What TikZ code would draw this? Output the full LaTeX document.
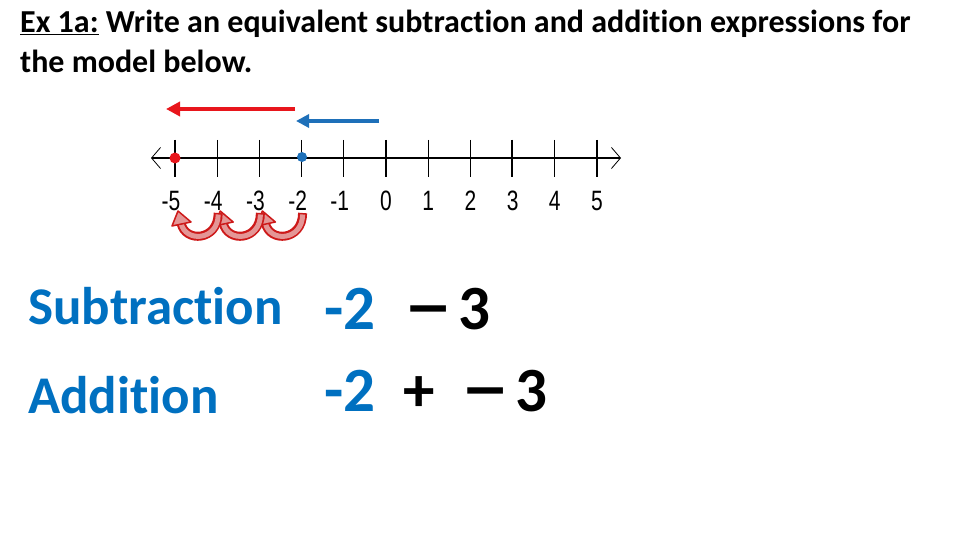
\documentclass[tikz,border=0pt]{standalone}
\usepackage{fontspec}
\usepackage{graphicx}
\setmainfont[Ligatures={NoCommon}]{Carlito}
\newfontfamily\numfont[FakeStretch=0.75]{Liberation Sans}
\usetikzlibrary{arrows.meta}
\definecolor{ppblue}{RGB}{0,112,192}
\definecolor{lineblue}{RGB}{30,112,185}
\definecolor{linered}{RGB}{232,22,28}
\definecolor{hopred}{RGB}{205,25,25}
\definecolor{hoppink}{RGB}{228,150,150}
\newcommand{\widedash}{\scalebox{1.6}[1.15]{–}}

\begin{document}
\begin{tikzpicture}[x=1pt,y=-1pt,
	title/.style={anchor=base west, inner sep=0pt, font=\bfseries\fontsize{32}{32}\selectfont},
	big/.style={anchor=base west, inner sep=0pt, font=\bfseries\fontsize{53}{53}\selectfont},
	sym/.style={anchor=base west, inner sep=0pt, font=\bfseries\fontsize{63}{63}\selectfont},
	numlabel/.style={inner sep=0pt, font=\numfont\fontsize{28}{28}\selectfont},
	dot/.style={circle, inner sep=0pt}]
	\useasboundingbox (0,0) rectangle (960,540);
	%\draw[help lines] (0,0) grid[step=20] (960,540);
	% title
	\node[title] (t1) at (20,33) {\underline{Ex 1a:} Write an equivalent subtraction and addition expressions for};
	\node[title] (t2) at (20,73) {the model below.};
	% number line
	\coordinate (axL) at (151,158);
	\coordinate (axR) at (621,158);
	\draw[line width=1.6pt, {Straight Barb[length=9pt,width=21pt,line width=0.8pt]}-{Straight Barb[length=9pt,width=21pt,line width=0.8pt]}] (axL) -- (axR);
	\foreach \n in {-5,...,5}{
		\pgfmathsetmacro{\x}{175+42.2*(\n+5)}
		\draw[line width=1.2pt] (\x,140) -- (\x,177);
		\ifnum\n<0
			\node[numlabel] (l\n) at (\x-4,201) {\n};
		\else
			\node[numlabel] (l\n) at (\x,201) {\n};
		\fi
	}
	\draw[line width=2.2pt] (175,140) -- (175,177);
	\draw[line width=2.2pt] (511.6,140) -- (511.6,177);
	\node[dot, fill=linered, minimum size=11pt] (endpt) at (175,158) {};
	\node[dot, fill=lineblue, minimum size=10pt] (startpt) at (302,157) {};
	% moves
	\coordinate (rA) at (295,109);
	\coordinate (rB) at (166,109);
	\draw[linered, line width=4.5pt, -{Triangle[length=14pt,width=14pt]}] (rA) -- (rB);
	\coordinate (bA) at (379,121);
	\coordinate (bB) at (296,121);
	\draw[lineblue, line width=4pt, -{Triangle[length=13pt,width=13pt]}] (bA) -- (bB);
	% hops
	\foreach \a/\b in {-2/-3,-3/-4,-4/-5}{
		\pgfmathsetmacro{\xa}{175+42.2*(\a+5)}
		\pgfmathsetmacro{\xb}{175+42.2*(\b+5)}
		\draw[hopred, line width=9pt] (\xa+1,213) .. controls (\xa+1,241) and (\xb+10,243) .. (\xb+6,223);
		\draw[hoppink, line width=5pt] (\xa+1,214.5) .. controls (\xa+1,241) and (\xb+10,243) .. (\xb+6,223);
		\filldraw[fill=hoppink, draw=hopred, line width=1.5pt, line join=round] (\xb+16,222) -- (\xb+3,211) -- (\xb-3,226) -- cycle;
	}
	% expressions
	\node[big, text=ppblue] (sub) at (28,324) {Subtraction};
	\node[sym, text=ppblue] (s1) at (324,329) {-2};
	\node[sym] (s2) at (403,329) {\widedash};
	\node[sym] (s3) at (458,329) {3};
	\node[big, text=ppblue] (add) at (28,413) {Addition};
	\node[sym, text=ppblue] (a1) at (324,411) {-2};
	\node[sym] (a2) at (403,411) {+};
	\node[sym] (a3) at (460,411) {\widedash};
	\node[sym] (a4) at (515,411) {3};
\end{tikzpicture}
\end{document}
